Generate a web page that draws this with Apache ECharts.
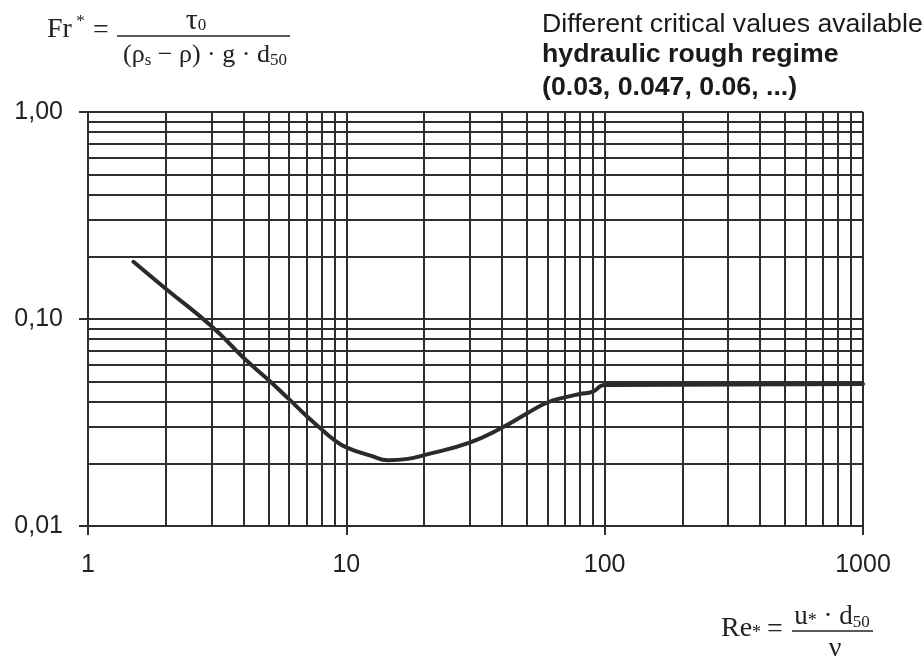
<!DOCTYPE html>
<html>
<head>
<meta charset="utf-8">
<script src="https://cdn.jsdelivr.net/npm/echarts@6/dist/echarts.min.js"></script>
<style>
  html, body { margin: 0; padding: 0; background: #ffffff; }
  #chart { width: 924px; height: 657px; }
</style>
</head>
<body>
<div id="chart"></div>
<script>
// Shields-type curve: dimensionless critical shear stress vs. particle Reynolds number
const reStar = [1.5, 2, 3, 4, 5, 6, 7, 8, 9, 10, 12.5, 14.5, 17.3, 20, 30, 40, 50, 60, 70, 80, 90, 100, 1000];
const frStar = [0.189, 0.14, 0.0925, 0.065, 0.0507, 0.041, 0.0341, 0.0294, 0.026, 0.024, 0.0218, 0.0208, 0.0211, 0.022, 0.0253, 0.0298, 0.035, 0.0395, 0.0418, 0.0434, 0.0446, 0.048, 0.0485];

// log-paper grid lines
const xGridValues = [2, 3, 4, 5, 6, 7, 8, 9, 10, 20, 30, 40, 50, 60, 70, 80, 90, 100, 200, 300, 400, 500, 600, 700, 800, 900, 1000];
const yGridValues = [0.02, 0.03, 0.04, 0.05, 0.06, 0.07, 0.08, 0.09, 0.1, 0.2, 0.3, 0.4, 0.5, 0.6, 0.7, 0.8, 0.9, 1];

// decade tick labels keyed by exponent
const xTickLabels = { '0': '1', '1': '10', '2': '100', '3': '1000' };
const yTickLabels = { '0': '1,00', '-1': '0,10', '-2': '0,01' };

const noteLines = ['Different critical values available', 'hydraulic rough regime', '(0.03, 0.047, 0.06, ...)'];

const ink = '#222222';
const gridInk = '#2e2e2e';
const serif = '"Liberation Serif", "DejaVu Serif", serif';
const sans = '"Liberation Sans", Arial, sans-serif';

const chart = echarts.init(document.getElementById('chart'), null, { renderer: 'canvas' });

// lays out a run of formula pieces [text, fontSize, dy] left to right
const measureCtx = document.createElement('canvas').getContext('2d');
function pieceWidth(t, size) {
  measureCtx.font = size + 'px ' + serif;
  return measureCtx.measureText(t).width;
}
function formulaRun(pieces, x0, yMid, centered) {
  let total = 0;
  pieces.forEach(p => { total += pieceWidth(p[0], p[1]); });
  let x = centered ? x0 - total / 2 : x0;
  const out = [];
  pieces.forEach(p => {
    out.push({
      type: 'text', x: x, y: yMid + (p[2] || 0), silent: true,
      style: { text: p[0], font: p[1] + 'px ' + serif, fill: ink, align: 'left', verticalAlign: 'middle' }
    });
    x += pieceWidth(p[0], p[1]);
  });
  return out;
}

const graphics = [];
// Fr* = tau0 / ((rho_s - rho) g d50)
graphics.push(...formulaRun([['Fr', 28, 0], [' *', 17, -8]], 47, 30, false));
graphics.push(...formulaRun([['=', 28, 0]], 93, 31, false));
graphics.push({ type: 'line', silent: true, shape: { x1: 117, y1: 36, x2: 290, y2: 36 }, style: { stroke: ink, lineWidth: 1.5 } });
graphics.push(...formulaRun([['τ', 30, 0], ['0', 17, 5]], 196, 21, true));
graphics.push(...formulaRun([['(ρ', 26, 0], ['s', 17, 6], [' − ρ) · g · d', 26, 0], ['50', 17, 6]], 205, 55, true));
// Re* = u* d50 / nu
graphics.push(...formulaRun([['Re', 28, 0], ['*', 18, 4]], 721, 629, false));
graphics.push(...formulaRun([['=', 28, 0]], 767, 630, false));
graphics.push({ type: 'line', silent: true, shape: { x1: 792, y1: 631, x2: 873, y2: 631 }, style: { stroke: ink, lineWidth: 1.5 } });
graphics.push(...formulaRun([['u', 27, 0], ['*', 18, 4], [' · d', 27, 0], ['50', 17, 6]], 832, 617, true));
graphics.push(...formulaRun([['ν', 28, 0]], 835, 649, true));
// note on critical values
const noteY = [25, 55, 88];
noteLines.forEach((t, i) => {
  graphics.push({
    type: 'text', x: 542, y: noteY[i], silent: true,
    style: { text: t, font: (i === 0 ? 'normal ' : 'bold ') + '26.7px ' + sans, fill: '#1a1a1a', align: 'left', verticalAlign: 'middle' }
  });
});

const decade = v => String(Math.round(Math.log10(v)));

chart.setOption({
  backgroundColor: '#ffffff',
  animation: false,
  grid: { left: 88, right: 61, top: 112, bottom: 131, containLabel: false },
  xAxis: {
    type: 'log', logBase: 10, min: 1, max: 1000,
    axisLine: { show: true, lineStyle: { color: gridInk, width: 2 } },
    axisTick: { show: true, inside: false, length: 9, lineStyle: { color: gridInk, width: 2 } },
    splitLine: { show: false },
    minorTick: { show: false },
    axisLabel: { formatter: v => xTickLabels[decade(v)] || '', fontSize: 25, fontFamily: sans, color: ink, margin: 27 }
  },
  yAxis: {
    type: 'log', logBase: 10, min: 0.01, max: 1,
    axisLine: { show: true, lineStyle: { color: gridInk, width: 2 } },
    axisTick: { show: true, inside: false, length: 9, lineStyle: { color: gridInk, width: 2 } },
    splitLine: { show: false },
    minorTick: { show: false },
    axisLabel: { formatter: v => yTickLabels[decade(v)] || '', fontSize: 25, fontFamily: sans, color: ink, margin: 25 }
  },
  series: [
    {
      name: 'grid',
      type: 'line',
      data: [],
      z: 1,
      silent: true,
      markLine: {
        silent: true,
        animation: false,
        symbol: ['none', 'none'],
        label: { show: false },
        lineStyle: { color: gridInk, width: 2, type: 'solid' },
        data: xGridValues.map(v => ({ xAxis: v })).concat(yGridValues.map(v => ({ yAxis: v })))
      }
    },
    {
      name: 'Fr*',
      type: 'line',
      z: 3,
      data: reStar.map((r, i) => [r, frStar[i]]),
      showSymbol: false,
      smooth: 0.5,
      lineStyle: { color: '#2a2a2a', width: 4, cap: 'round', join: 'round' }
    }
  ],
  graphic: graphics
});
</script>
</body>
</html>
